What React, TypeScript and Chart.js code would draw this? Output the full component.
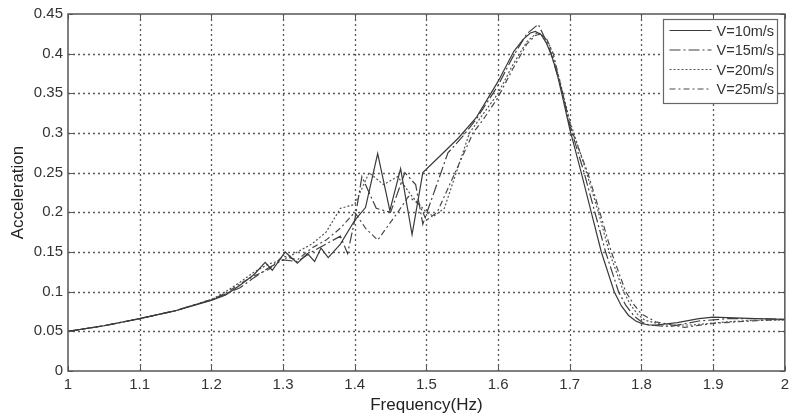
import React, { useEffect, useRef } from "react";
import { Chart, registerables } from "chart.js";

Chart.register(...registerables);

// ---- Data ----
const seriesLabels = ["V=10m/s", "V=15m/s", "V=20m/s", "V=25m/s"];

const v10Freq = [1.0, 1.05, 1.1, 1.15, 1.2, 1.22, 1.24, 1.26, 1.275, 1.285, 1.303, 1.32, 1.334, 1.344, 1.353, 1.363, 1.38, 1.4, 1.415, 1.432, 1.449, 1.464, 1.48, 1.495, 1.52, 1.545, 1.57, 1.6, 1.622, 1.635, 1.645, 1.652, 1.66, 1.667, 1.675, 1.683, 1.69, 1.7, 1.716, 1.73, 1.744, 1.762, 1.772, 1.782, 1.792, 1.8, 1.81, 1.82, 1.85, 1.88, 1.9, 1.93, 1.96, 2.0];
const v10Acc = [0.05, 0.057, 0.066, 0.076, 0.089, 0.096, 0.108, 0.122, 0.137, 0.127, 0.15, 0.136, 0.148, 0.138, 0.155, 0.143, 0.16, 0.19, 0.206, 0.274, 0.202, 0.255, 0.172, 0.25, 0.272, 0.294, 0.32, 0.365, 0.403, 0.418, 0.426, 0.428, 0.424, 0.414, 0.397, 0.372, 0.345, 0.305, 0.25, 0.2, 0.15, 0.1, 0.082, 0.07, 0.063, 0.06, 0.058, 0.058, 0.061, 0.066, 0.068, 0.067, 0.066, 0.065];

const v15Freq = [1.0, 1.05, 1.1, 1.15, 1.2, 1.22, 1.24, 1.26, 1.28, 1.3, 1.32, 1.34, 1.36, 1.38, 1.39, 1.4, 1.41, 1.43, 1.45, 1.47, 1.485, 1.495, 1.53, 1.55, 1.57, 1.6, 1.62, 1.64, 1.656, 1.663, 1.672, 1.68, 1.69, 1.7, 1.72, 1.735, 1.75, 1.768, 1.778, 1.79, 1.8, 1.81, 1.84, 1.88, 1.92, 1.96, 2.0];
const v15Acc = [0.05, 0.057, 0.066, 0.076, 0.09, 0.097, 0.105, 0.118, 0.13, 0.14, 0.138, 0.15, 0.16, 0.17, 0.148, 0.19, 0.245, 0.205, 0.2, 0.25, 0.235, 0.185, 0.275, 0.295, 0.318, 0.36, 0.395, 0.425, 0.437, 0.424, 0.405, 0.382, 0.35, 0.31, 0.25, 0.2, 0.15, 0.1, 0.083, 0.069, 0.062, 0.058, 0.056, 0.063, 0.066, 0.066, 0.065];

const v20Freq = [1.0, 1.05, 1.1, 1.15, 1.2, 1.22, 1.24, 1.26, 1.28, 1.3, 1.32, 1.34, 1.36, 1.38, 1.4, 1.42, 1.44, 1.46, 1.48, 1.5, 1.51, 1.525, 1.56, 1.58, 1.6, 1.62, 1.64, 1.655, 1.664, 1.672, 1.685, 1.7, 1.72, 1.74, 1.755, 1.775, 1.785, 1.795, 1.805, 1.83, 1.87, 1.92, 1.96, 2.0];
const v20Acc = [0.05, 0.057, 0.066, 0.076, 0.09, 0.1, 0.112, 0.125, 0.135, 0.14, 0.15, 0.16, 0.175, 0.205, 0.21, 0.25, 0.235, 0.245, 0.22, 0.2, 0.195, 0.205, 0.3, 0.325, 0.35, 0.385, 0.415, 0.427, 0.422, 0.41, 0.37, 0.315, 0.26, 0.2, 0.15, 0.1, 0.083, 0.071, 0.064, 0.058, 0.058, 0.062, 0.064, 0.064];

const v25Freq = [1.0, 1.05, 1.1, 1.15, 1.2, 1.22, 1.24, 1.26, 1.28, 1.3, 1.32, 1.34, 1.36, 1.38, 1.4, 1.415, 1.432, 1.46, 1.475, 1.49, 1.5, 1.515, 1.565, 1.58, 1.6, 1.62, 1.64, 1.652, 1.66, 1.668, 1.677, 1.69, 1.7, 1.725, 1.742, 1.758, 1.778, 1.79, 1.8, 1.82, 1.86, 1.9, 1.95, 2.0];
const v25Acc = [0.05, 0.057, 0.066, 0.076, 0.09, 0.098, 0.11, 0.12, 0.128, 0.145, 0.14, 0.155, 0.165, 0.18, 0.2, 0.18, 0.165, 0.2, 0.22, 0.21, 0.19, 0.2, 0.3, 0.318, 0.345, 0.38, 0.412, 0.423, 0.425, 0.418, 0.4, 0.35, 0.31, 0.25, 0.2, 0.15, 0.1, 0.083, 0.072, 0.062, 0.055, 0.06, 0.063, 0.065];

const xTicks = [1, 1.1, 1.2, 1.3, 1.4, 1.5, 1.6, 1.7, 1.8, 1.9, 2];
const yTicks = [0, 0.05, 0.1, 0.15, 0.2, 0.25, 0.3, 0.35, 0.4, 0.45];

const lineColors = ["#3a3a3a", "#404040", "#555555", "#4a4a4a"];
const lineDashes: number[][] = [[], [11, 3, 2, 3], [2, 2], [6, 3, 2, 3]];

const FONT = "'Liberation Sans', Arial, sans-serif";

function toPoints(f: number[], a: number[]) {
  return f.map((x, i) => ({ x, y: a[i] }));
}

const gridPlugin = {
  id: "dottedGrid",
  beforeDatasetsDraw(chart: any) {
    const { ctx, chartArea } = chart;
    const { left, right, top, bottom } = chartArea;
    const xs = chart.scales.x;
    const ys = chart.scales.y;
    ctx.save();
    ctx.strokeStyle = "#5a5a5a";
    ctx.lineWidth = 1.3;
    ctx.setLineDash([2, 3]);
    xTicks.forEach((t) => {
      const px = Math.round(xs.getPixelForValue(t)) + 0.5;
      if (px <= left + 1 || px >= right - 1) return;
      ctx.beginPath();
      ctx.moveTo(px, bottom);
      ctx.lineTo(px, top);
      ctx.stroke();
    });
    yTicks.forEach((t) => {
      const py = Math.round(ys.getPixelForValue(t)) + 0.5;
      if (py <= top + 1 || py >= bottom - 1) return;
      ctx.beginPath();
      ctx.moveTo(left, py);
      ctx.lineTo(right, py);
      ctx.stroke();
    });
    ctx.restore();
  },
};

const framePlugin = {
  id: "frameAndLegend",
  afterDatasetsDraw(chart: any) {
    const { ctx, chartArea } = chart;
    const { left, right, top, bottom } = chartArea;
    const xs = chart.scales.x;
    const ys = chart.scales.y;
    ctx.save();
    ctx.strokeStyle = "#555";
    ctx.lineWidth = 1.5;
    ctx.setLineDash([]);
    ctx.strokeRect(left, top, right - left, bottom - top);
    ctx.lineWidth = 1;
    xTicks.forEach((t) => {
      const px = Math.round(xs.getPixelForValue(t)) + 0.5;
      ctx.beginPath();
      ctx.moveTo(px, bottom);
      ctx.lineTo(px, bottom - 5);
      ctx.moveTo(px, top);
      ctx.lineTo(px, top + 5);
      ctx.stroke();
    });
    yTicks.forEach((t) => {
      const py = Math.round(ys.getPixelForValue(t)) + 0.5;
      ctx.beginPath();
      ctx.moveTo(left, py);
      ctx.lineTo(left + 5, py);
      ctx.moveTo(right, py);
      ctx.lineTo(right - 5, py);
      ctx.stroke();
    });
    // legend box
    const bx = 663.5, by = 19.5, bw = 114, bh = 84;
    ctx.fillStyle = "#ffffff";
    ctx.fillRect(bx, by, bw, bh);
    ctx.strokeStyle = "#666";
    ctx.lineWidth = 1.2;
    ctx.strokeRect(bx, by, bw, bh);
    ctx.font = "14.5px " + FONT;
    ctx.textBaseline = "middle";
    ctx.textAlign = "left";
    seriesLabels.forEach((lab, i) => {
      const y = by + 11 + i * 19.5;
      ctx.beginPath();
      ctx.strokeStyle = lineColors[i];
      ctx.lineWidth = 1.2;
      ctx.setLineDash(lineDashes[i]);
      ctx.moveTo(bx + 6, y);
      ctx.lineTo(bx + 48, y);
      ctx.stroke();
      ctx.setLineDash([]);
      ctx.fillStyle = "#333";
      ctx.fillText(lab, bx + 53, y + 1);
    });
    ctx.restore();
  },
};

export default function App() {
  const ref = useRef<HTMLCanvasElement | null>(null);
  useEffect(() => {
    if (!ref.current) return;
    const data = [
      toPoints(v10Freq, v10Acc),
      toPoints(v15Freq, v15Acc),
      toPoints(v20Freq, v20Acc),
      toPoints(v25Freq, v25Acc),
    ];
    const chart = new Chart(ref.current, {
      type: "line",
      data: {
        datasets: seriesLabels.map((label, i) => ({
          label,
          data: data[i],
          borderColor: lineColors[i],
          borderWidth: 1.2,
          borderDash: lineDashes[i],
          pointRadius: 0,
          tension: 0,
          fill: false,
        })),
      },
      options: {
        animation: false,
        responsive: false,
        maintainAspectRatio: false,
        layout: { padding: { top: 13, right: 4, left: 0, bottom: 0 } },
        plugins: {
          legend: { display: false },
          tooltip: { enabled: false },
        },
        scales: {
          x: {
            type: "linear",
            min: 1,
            max: 2,
            afterBuildTicks: (s: any) => {
              s.ticks = xTicks.map((v) => ({ value: v }));
            },
            afterFit: (s: any) => {
              s.height = 48;
            },
            ticks: {
              padding: 5,
              color: "#333",
              font: { family: FONT, size: 15 },
              callback: (v: any) => String(v),
              maxRotation: 0,
            },
            grid: { display: false, drawTicks: false },
            border: { display: false },
            title: {
              display: true,
              text: "Frequency(Hz)",
              color: "#222",
              font: { family: FONT, size: 17 },
              padding: { top: 0, bottom: 3 },
            },
          },
          y: {
            type: "linear",
            min: 0,
            max: 0.45,
            afterBuildTicks: (s: any) => {
              s.ticks = yTicks.map((v) => ({ value: v }));
            },
            afterFit: (s: any) => {
              s.width = 68;
            },
            ticks: {
              padding: 5,
              color: "#333",
              font: { family: FONT, size: 15 },
              callback: (v: any) => String(Math.round(v * 100) / 100),
            },
            grid: { display: false, drawTicks: false },
            border: { display: false },
            title: {
              display: true,
              text: "Acceleration",
              color: "#222",
              font: { family: FONT, size: 17 },
              padding: { top: 8, bottom: 0 },
            },
          },
        },
      } as any,
      plugins: [gridPlugin, framePlugin],
    });
    return () => chart.destroy();
  }, []);
  return (
    <div style={{ position: "fixed", left: 0, top: 0, width: 794, height: 419, background: "#fff" }}>
      <canvas ref={ref} width={794} height={419} style={{ width: 794, height: 419, display: "block" }} />
    </div>
  );
}
